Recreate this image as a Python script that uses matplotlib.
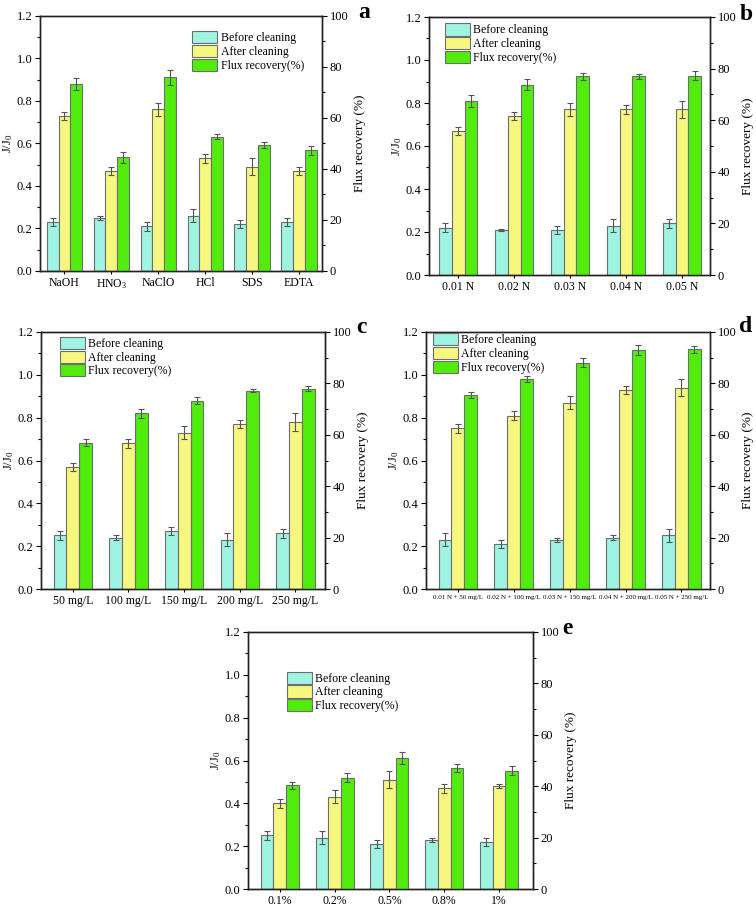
import matplotlib
matplotlib.use("Agg")
import matplotlib.pyplot as plt
import numpy as np
from matplotlib.ticker import MultipleLocator

plt.rcParams['font.family'] = ['Liberation Serif', 'DejaVu Serif']
plt.rcParams['mathtext.fontset'] = 'custom'
plt.rcParams['mathtext.rm'] = 'Liberation Serif'
plt.rcParams['mathtext.it'] = 'Liberation Serif'

# ---------------- data ----------------
cats_a = ['NaOH', 'HNO$_3$', 'NaClO', 'HCl', 'SDS', 'EDTA']
before_a = [0.23, 0.25, 0.21, 0.26, 0.22, 0.23]
before_err_a = [0.02, 0.01, 0.02, 0.03, 0.02, 0.02]
after_a = [0.73, 0.47, 0.76, 0.53, 0.49, 0.47]
after_err_a = [0.02, 0.02, 0.03, 0.02, 0.04, 0.02]
flux_a = [73.3, 44.6, 75.9, 52.6, 49.3, 47.3]
flux_err_a = [2.2, 2.2, 3.0, 1.0, 1.2, 1.8]

cats_b = ['0.01 N', '0.02 N', '0.03 N', '0.04 N', '0.05 N']
before_b = [0.22, 0.21, 0.21, 0.23, 0.24]
before_err_b = [0.02, 0.005, 0.02, 0.03, 0.02]
after_b = [0.67, 0.74, 0.77, 0.77, 0.77]
after_err_b = [0.02, 0.02, 0.03, 0.02, 0.04]
flux_b = [67.4, 73.8, 77.0, 77.0, 77.2]
flux_err_b = [2.2, 2.2, 1.3, 1.0, 1.8]

cats_c = ['50 mg/L', '100 mg/L', '150 mg/L', '200 mg/L', '250 mg/L']
before_c = [0.25, 0.24, 0.27, 0.23, 0.26]
before_err_c = [0.02, 0.01, 0.02, 0.03, 0.02]
after_c = [0.57, 0.68, 0.73, 0.77, 0.78]
after_err_c = [0.02, 0.02, 0.03, 0.02, 0.04]
flux_c = [57.0, 68.3, 73.3, 77.1, 78.0]
flux_err_c = [1.4, 1.8, 1.4, 0.6, 1.0]

cats_d = ['0.01 N + 50 mg/L', '0.02 N + 100 mg/L', '0.03 N + 150 mg/L',
          '0.04 N + 200 mg/L', '0.05 N + 250 mg/L']
before_d = [0.23, 0.21, 0.23, 0.24, 0.25]
before_err_d = [0.03, 0.02, 0.01, 0.01, 0.03]
after_d = [0.75, 0.81, 0.87, 0.93, 0.94]
after_err_d = [0.02, 0.02, 0.03, 0.02, 0.04]
flux_d = [75.4, 81.7, 88.1, 93.1, 93.3]
flux_err_d = [1.2, 1.2, 1.9, 1.9, 1.3]

cats_e = ['0.1%', '0.2%', '0.5%', '0.8%', '1%']
before_e = [0.25, 0.24, 0.21, 0.23, 0.22]
before_err_e = [0.02, 0.03, 0.02, 0.01, 0.02]
after_e = [0.40, 0.43, 0.51, 0.47, 0.48]
after_err_e = [0.02, 0.03, 0.04, 0.02, 0.01]
flux_e = [40.3, 43.3, 51.0, 47.2, 46.0]
flux_err_e = [1.4, 1.8, 2.5, 1.5, 1.8]

labels = ['Before cleaning', 'After cleaning', 'Flux recovery(%)']
colors = ['#9ef3e2', '#f6f77e', '#52ec0c']

W, H = 756, 908
fig = plt.figure(figsize=(W / 100, H / 100), dpi=100)


def px_axes(x0, y0, x1, y1):
    return fig.add_axes([x0 / W, 1 - y1 / H, (x1 - x0) / W, (y1 - y0) / H])


def panel(box, cats, before, be, after, ae, flux, fe, letter, letter_xy,
          leg_xy, xl, xtfs=8.5, width=0.23):
    ax = px_axes(*box)
    ax2 = ax.twinx()
    n = len(cats)
    x = np.arange(n)
    ekw = dict(ecolor='#555555', elinewidth=0.8, capsize=2.2, capthick=0.8)
    b1 = ax.bar(x - width, before, width, yerr=be, color=colors[0],
                edgecolor='#6d6d6d', linewidth=0.8, error_kw=ekw, zorder=2)
    b2 = ax.bar(x, after, width, yerr=ae, color=colors[1],
                edgecolor='#6d6d6d', linewidth=0.8, error_kw=ekw, zorder=2)
    b3 = ax2.bar(x + width, flux, width, yerr=fe, color=colors[2],
                 edgecolor='#6d6d6d', linewidth=0.8, error_kw=ekw, zorder=2)
    ax.set_ylim(0, 1.2)
    ax2.set_ylim(0, 100)
    ax.set_xlim(*xl)
    ax.yaxis.set_major_locator(MultipleLocator(0.2))
    ax.yaxis.set_minor_locator(MultipleLocator(0.1))
    ax2.yaxis.set_major_locator(MultipleLocator(20))
    ax2.yaxis.set_minor_locator(MultipleLocator(10))
    ax.yaxis.set_major_formatter(matplotlib.ticker.FormatStrFormatter('%.1f'))
    ax.set_xticks(x)
    ax.set_xticklabels(cats, fontsize=xtfs)
    ax.tick_params(axis='y', which='major', direction='out', length=3.5,
                   width=0.8, labelsize=9, pad=2)
    ax.tick_params(axis='y', which='minor', direction='out', length=2,
                   width=0.8)
    ax.tick_params(axis='x', direction='out', length=2.5, width=0.8, pad=2)
    ax2.tick_params(axis='y', which='major', direction='out', length=3.5,
                    width=0.8, labelsize=9, pad=2)
    ax2.tick_params(axis='y', which='minor', direction='out', length=2,
                    width=0.8)
    for a in (ax, ax2):
        for s in a.spines.values():
            s.set_linewidth(1.0)
            s.set_color('#222222')
    ax.set_ylabel('J/J$_0$', fontsize=9, labelpad=1.5)
    ax2.set_ylabel('Flux recovery (%)', fontsize=9.5, labelpad=4)
    fig.text(letter_xy[0] / W, 1 - letter_xy[1] / H, letter, fontsize=17,
             fontweight='bold', ha='center', va='center')
    ax2.legend([b1, b2, b3], labels, loc='upper left',
               bbox_to_anchor=leg_xy, frameon=False, fontsize=8.5,
               handlelength=2.1, handleheight=1.2, labelspacing=0.05,
               handletextpad=0.3, borderpad=0, borderaxespad=0)
    return ax, ax2


panel((40, 16, 322, 271), cats_a, before_a, before_err_a, after_a,
      after_err_a, flux_a, flux_err_a, 'a', (364, 13), (0.54, 0.94),
      (-0.52, 5.49), width=0.25)
panel((429, 17, 710, 275), cats_b, before_b, before_err_b, after_b,
      after_err_b, flux_b, flux_err_b, 'b', (746, 14), (0.057, 0.975),
      (-0.52, 4.5))
panel((41, 332, 325, 589), cats_c, before_c, before_err_c, after_c,
      after_err_c, flux_c, flux_err_c, 'c', (361, 328), (0.067, 0.98),
      (-0.57, 4.53))
panel((426, 332, 710, 589), cats_d, before_d, before_err_d, after_d,
      after_err_d, flux_d, flux_err_d, 'd', (746, 327), (0.025, 0.995),
      (-0.57, 4.51), xtfs=5.0)
panel((248, 632, 533, 889), cats_e, before_e, before_err_e, after_e,
      after_err_e, flux_e, flux_err_e, 'e', (567, 628), (0.137, 0.845),
      (-0.58, 4.62))

fig.savefig('out.png', dpi=100)
